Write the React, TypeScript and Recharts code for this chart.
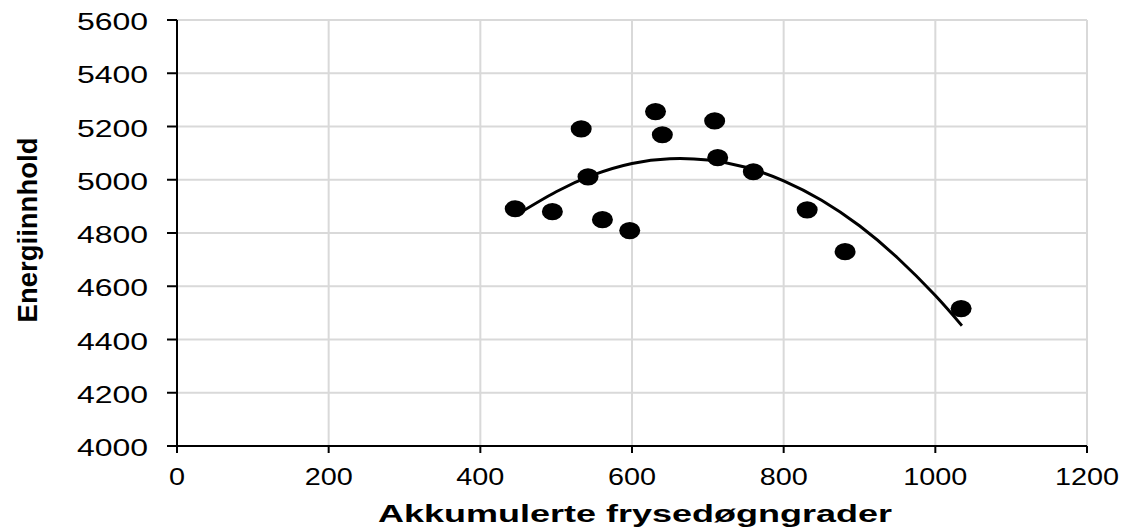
import React from "react";
import {
  ComposedChart,
  Scatter,
  Line,
  XAxis,
  YAxis,
  CartesianGrid,
} from "recharts";

// Observed points (Akkumulerte frysedøgngrader vs Energiinnhold)
const frost = [446, 495, 533, 542, 561, 597, 631, 640, 709, 713, 760, 831, 881, 1034];
const energy = [4891, 4880, 5191, 5011, 4850, 4809, 5256, 5169, 5221, 5083, 5030, 4887, 4730, 4516];

// Trend curve
const trendX = [446, 500, 550, 600, 650, 700, 750, 800, 850, 900, 950, 1000, 1035];
const trendY = [4865, 4955, 5019, 5061, 5079, 5074, 5047, 4996, 4923, 4827, 4707, 4565, 4452];

const xTicks = [0, 200, 400, 600, 800, 1000, 1200];
const yTicks = [4000, 4200, 4400, 4600, 4800, 5000, 5200, 5400, 5600];

const points = frost.map((x, i) => ({ x, y: energy[i] }));
const trend = trendX.map((x, i) => ({ x, y: trendY[i] }));

const FONT = "'Liberation Sans', Arial, Helvetica, sans-serif";

const YTick = (props: any) => {
  const { x, y, payload } = props;
  return (
    <text
      x={0}
      y={0}
      transform={`translate(${x - 19}, ${y + 10}) scale(1.39,1)`}
      textAnchor="end"
      fontSize={23}
      fontFamily={FONT}
      fill="#000"
    >
      {payload.value}
    </text>
  );
};

const XTick = (props: any) => {
  const { x, y, payload } = props;
  return (
    <text
      x={0}
      y={0}
      transform={`translate(${x}, ${y + 32}) scale(1.2,1)`}
      textAnchor="middle"
      fontSize={24}
      fontFamily={FONT}
      fill="#000"
    >
      {payload.value}
    </text>
  );
};

const Dot = (props: any) => {
  const { cx, cy } = props;
  if (cx == null || cy == null) return null;
  return <ellipse cx={cx} cy={cy} rx={10.5} ry={8.6} fill="#000" />;
};

export default function App() {
  return (
    <div style={{ position: "absolute", left: 0, top: 0, width: 1128, height: 532, background: "#fff" }}>
      <ComposedChart
        width={1128}
        height={532}
        margin={{ top: 20, right: 41, bottom: 0, left: 0 }}
      >
        <CartesianGrid stroke="#d9d9d9" strokeWidth={2} />
        <XAxis
          type="number"
          dataKey="x"
          domain={[0, 1200]}
          ticks={xTicks}
          interval={0}
          height={86}
          tickSize={7}
          tickMargin={0}
          axisLine={{ stroke: "#000", strokeWidth: 2 }}
          tickLine={{ stroke: "#000", strokeWidth: 2 }}
          tick={<XTick />}
          allowDataOverflow
        />
        <YAxis
          type="number"
          dataKey="y"
          domain={[4000, 5600]}
          ticks={yTicks}
          interval={0}
          width={177}
          tickSize={10}
          tickMargin={0}
          axisLine={{ stroke: "#000", strokeWidth: 2 }}
          tickLine={{ stroke: "#000", strokeWidth: 2 }}
          tick={<YTick />}
          allowDataOverflow
        />
        <Line
          data={trend}
          dataKey="y"
          type="natural"
          stroke="#000"
          strokeWidth={3}
          dot={false}
          activeDot={false}
          isAnimationActive={false}
        />
        <Scatter data={points} dataKey="y" fill="#000" shape={<Dot />} isAnimationActive={false} />
        <text
          x={0}
          y={0}
          transform="translate(635, 522) scale(1.5,1)"
          textAnchor="middle"
          fontSize={24}
          fontWeight="bold"
          fontFamily={FONT}
          fill="#000"
        >
          Akkumulerte frysedøgngrader
        </text>
        <text
          x={0}
          y={0}
          transform="translate(37, 230) rotate(-90)"
          textAnchor="middle"
          fontSize={27.5}
          fontWeight="bold"
          fontFamily={FONT}
          fill="#000"
        >
          Energiinnhold
        </text>
      </ComposedChart>
    </div>
  );
}
